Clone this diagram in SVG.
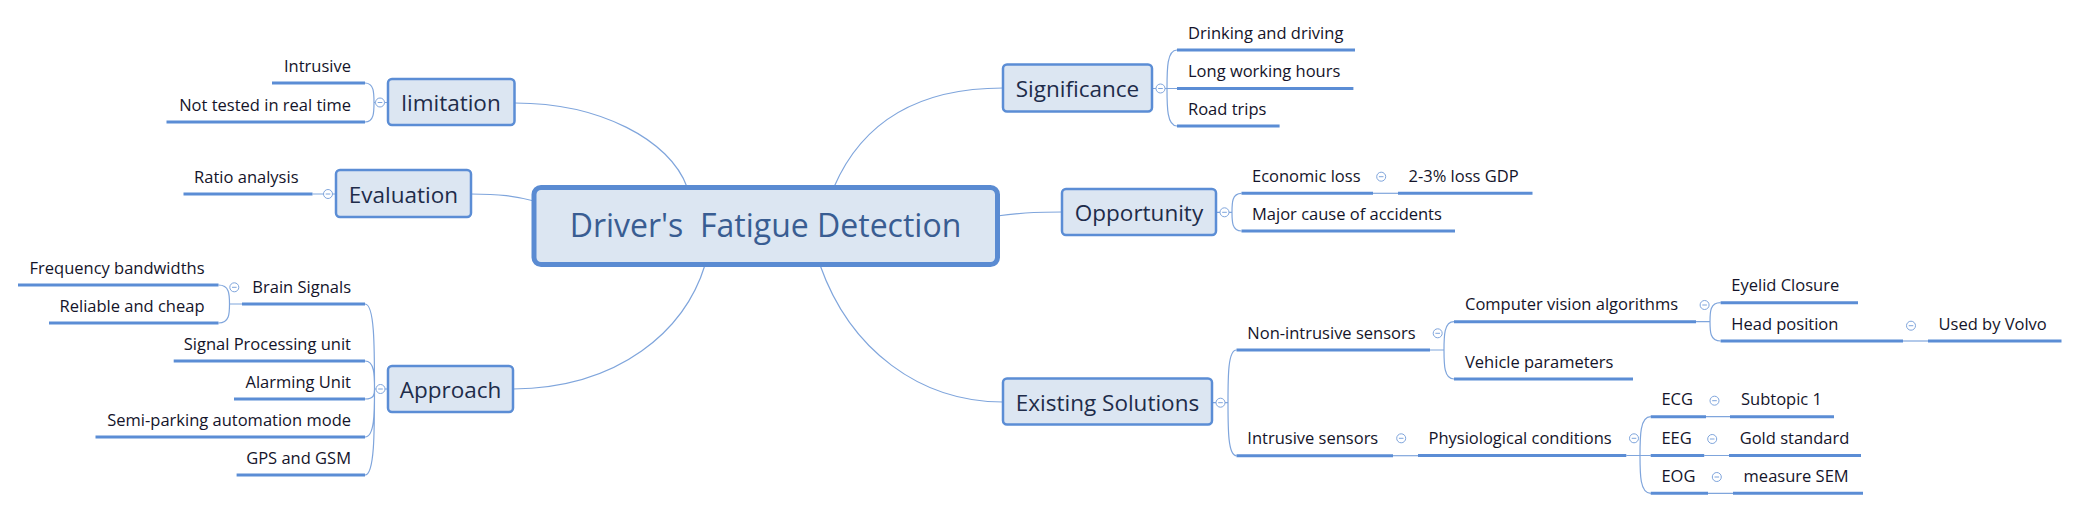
<svg xmlns="http://www.w3.org/2000/svg" width="2079" height="510" viewBox="0 0 2079 510">
<style>
.ln{fill:none;stroke:#7fa5dc;stroke-width:1.2}
.ul{fill:none;stroke:#5b8dd5;stroke-width:3}
.box{fill:#dce6f2;stroke:#5b8dd5;stroke-width:2.5}
.cbox{fill:#dce6f2;stroke:#5a8bd2;stroke-width:5}
text{font-family:"Open Sans","Noto Sans","DejaVu Sans",sans-serif}
.t{font-size:16.5px;fill:#14142a}
.e{text-anchor:end}
.tt{font-size:22.5px;fill:#1e2c4a;text-anchor:middle}
.ct{font-size:32px;fill:#395d92;text-anchor:middle}
</style>
<defs>
<g id="cb"><circle r="4.5" fill="#fff" stroke="#7fa5dc" stroke-width="1"/><line x1="-2.3" y1="0" x2="2.3" y2="0" stroke="#7fa5dc" stroke-width="1"/></g>
</defs>
<rect width="2079" height="510" fill="#fff"/>

<g id="connectors">
<path class="ln" d="M515,103 C600,103 670,140 687,187"/>
<path class="ln" d="M471,194 C500,194 515,196 534,201"/>
<path class="ln" d="M513,389 C620,388 685,330 705,265"/>
<path class="ln" d="M834,187 C863,120 920,88 1003,88"/>
<path class="ln" d="M997,216 C1030,212 1040,212 1062,212"/>
<path class="ln" d="M820,265 C850,350 920,402 1003,402"/>
<path class="ln" d="M388,102.5 L384.5,102.5 M375.5,102.5 L374,102.5"/>
<path class="ln" d="M374,102.5 C374,92.8 374,83 365,83 M374,102.5 C374,112.2 374,122 365,122"/>
<path class="ln" d="M336,194 L332.5,194 M323.5,194 L312.5,194"/>
<path class="ln" d="M388,389 L385,389 M376,389 L374.5,389"/>
<path class="ln" d="M374.5,389 C374.5,346 374.5,304 365,304 M374.5,389 C374.5,375 374.5,361 365,361 M374.5,389 C374.5,394 374.5,399 365,399 M374.5,389 C374.5,413 374.5,437 365,437 M374.5,389 C374.5,432 374.5,475 365,475"/>
<path class="ln" d="M242,304 L229.5,304 C229.5,294.5 229.5,285 218.5,285 M229.5,304 C229.5,313.5 229.5,323 218.5,323"/>
<path class="ln" d="M1152,88.5 L1156,88.5 M1165,88.5 L1177,88.5"/>
<path class="ln" d="M1167,88.5 C1167,69 1167,50 1177,50 M1167,88.5 C1167,107 1167,126 1177,126"/>
<path class="ln" d="M1216,212.3 L1220,212.3 M1229,212.3 L1232,212.3"/>
<path class="ln" d="M1232,212.3 C1232,202.8 1232,193.3 1241.5,193.3 M1232,212.3 C1232,221.6 1232,231 1241.5,231"/>
<path class="ln" d="M1373,193.3 L1398,193.3"/>
<path class="ln" d="M1212,402.7 L1216,402.7 M1225,402.7 L1228,402.7"/>
<path class="ln" d="M1228,402.7 C1228,376 1228,350 1236.5,350 M1228,402.7 C1228,429 1228,455.7 1236.5,455.7"/>
<path class="ln" d="M1430,350 L1444,350 C1444,336 1444,321.7 1454,321.7 M1444,350 C1444,364.5 1444,379 1454,379"/>
<path class="ln" d="M1696,321.7 L1710,321.7 C1710,312 1710,302.7 1720.6,302.7 M1710,321.7 C1710,331.3 1710,341 1720.6,341"/>
<path class="ln" d="M1903,341 L1928,341"/>
<path class="ln" d="M1393,455.7 L1418,455.7"/>
<path class="ln" d="M1626.3,455.5 L1650.7,455.5 M1640,455.5 C1640,436 1640,416.7 1650.7,416.7 M1640,455.5 C1640,474.4 1640,493.3 1650.7,493.3"/>
<path class="ln" d="M1706,416.7 L1730,416.7 M1704.2,455.5 L1729,455.5 M1708,493.3 L1733,493.3"/>
</g>

<g id="central">
<rect class="cbox" x="534" y="187.5" width="463.5" height="77" rx="7"/>
<text class="ct" x="765.5" y="237" xml:space="preserve">Driver's  Fatigue Detection</text>
</g>

<g id="limitation">
<rect class="box" x="388" y="79" width="126.5" height="46" rx="4"/>
<text class="tt" x="451" y="111">limitation</text>
<use href="#cb" x="380" y="102.5"/>
</g>
<g id="intrusive-l"><path class="ul" d="M272,83 H365"/><text class="t e" x="351" y="71.5">Intrusive</text></g>
<g id="not-tested"><path class="ul" d="M166.5,122 H365"/><text class="t e" x="351" y="110.5">Not tested in real time</text></g>

<g id="evaluation">
<rect class="box" x="336" y="170" width="135" height="47" rx="4"/>
<text class="tt" x="403.5" y="202.5">Evaluation</text>
<use href="#cb" x="328" y="194"/>
</g>
<g id="ratio"><path class="ul" d="M183.5,194 H312.5"/><text class="t e" x="298.5" y="182.5">Ratio analysis</text></g>

<g id="approach">
<rect class="box" x="388" y="366" width="125" height="46" rx="4"/>
<text class="tt" x="450.5" y="397.5">Approach</text>
<use href="#cb" x="380.5" y="389"/>
</g>
<g id="brain"><path class="ul" d="M242,304 H365"/><text class="t e" x="351" y="292.5">Brain Signals</text><use href="#cb" x="234.3" y="287.3"/></g>
<g id="freq"><path class="ul" d="M18,285 H218.5"/><text class="t e" x="204.5" y="273.5">Frequency bandwidths</text></g>
<g id="reliable"><path class="ul" d="M49,323 H218.5"/><text class="t e" x="204.5" y="311.5">Reliable and cheap</text></g>
<g id="spu"><path class="ul" d="M173.7,361 H365"/><text class="t e" x="351" y="349.5">Signal Processing unit</text></g>
<g id="alarm"><path class="ul" d="M234,399 H365"/><text class="t e" x="351" y="387.5">Alarming Unit</text></g>
<g id="semi"><path class="ul" d="M95.5,437 H365"/><text class="t e" x="351" y="425.5">Semi-parking automation mode</text></g>
<g id="gps"><path class="ul" d="M236.6,475 H365"/><text class="t e" x="351" y="463.5">GPS and GSM</text></g>

<g id="significance">
<rect class="box" x="1003" y="64.5" width="149" height="47" rx="4"/>
<text class="tt" x="1077.5" y="96.5">Significance</text>
<use href="#cb" x="1160.5" y="88.5"/>
</g>
<g id="drinking"><path class="ul" d="M1177,50 H1355"/><text class="t" x="1188" y="38.5">Drinking and driving</text></g>
<g id="long"><path class="ul" d="M1177,88.5 H1353.4"/><text class="t" x="1188" y="77">Long working hours</text></g>
<g id="road"><path class="ul" d="M1177,126 H1279.6"/><text class="t" x="1188" y="114.5">Road trips</text></g>

<g id="opportunity">
<rect class="box" x="1062" y="189" width="154" height="46" rx="4"/>
<text class="tt" x="1139" y="220.5">Opportunity</text>
<use href="#cb" x="1224.5" y="212.3"/>
</g>
<g id="economic"><path class="ul" d="M1241.5,193.3 H1373"/><text class="t" x="1252" y="181.8">Economic loss</text><use href="#cb" x="1381.2" y="176.7"/></g>
<g id="gdp"><path class="ul" d="M1398,193.3 H1532.5"/><text class="t" x="1408.5" y="181.8">2-3% loss GDP</text></g>
<g id="major"><path class="ul" d="M1241.5,231 H1455"/><text class="t" x="1252" y="219.5">Major cause of accidents</text></g>

<g id="existing">
<rect class="box" x="1003" y="378.5" width="209" height="46" rx="4"/>
<text class="tt" x="1107.5" y="410.5">Existing Solutions</text>
<use href="#cb" x="1220.5" y="402.7"/>
</g>
<g id="nonintrusive"><path class="ul" d="M1236.5,350 H1430"/><text class="t" x="1247.3" y="338.5">Non-intrusive sensors</text><use href="#cb" x="1437.7" y="333.3"/></g>
<g id="cva"><path class="ul" d="M1454,321.7 H1696"/><text class="t" x="1465" y="310.2">Computer vision algorithms</text><use href="#cb" x="1704.6" y="305"/></g>
<g id="eyelid"><path class="ul" d="M1720.6,302.7 H1858"/><text class="t" x="1731.3" y="291.2">Eyelid Closure</text></g>
<g id="head"><path class="ul" d="M1720.6,341 H1903"/><text class="t" x="1731.3" y="329.5">Head position</text><use href="#cb" x="1911" y="325.7"/></g>
<g id="volvo"><path class="ul" d="M1928,341 H2061.5"/><text class="t" x="1938.5" y="329.5">Used by Volvo</text></g>
<g id="vehicle"><path class="ul" d="M1454,379 H1633"/><text class="t" x="1465" y="367.5">Vehicle parameters</text></g>
<g id="intrusive-s"><path class="ul" d="M1236.5,455.7 H1393"/><text class="t" x="1247.3" y="444.2">Intrusive sensors</text><use href="#cb" x="1401.2" y="438.3"/></g>
<g id="physio"><path class="ul" d="M1418,455.5 H1626.3"/><text class="t" x="1428.5" y="444">Physiological conditions</text><use href="#cb" x="1634" y="438.3"/></g>
<g id="ecg"><path class="ul" d="M1650.7,416.7 H1706"/><text class="t" x="1661.4" y="405.2">ECG</text><use href="#cb" x="1714.5" y="400.7"/></g>
<g id="subtopic"><path class="ul" d="M1730,416.7 H1834"/><text class="t" x="1741" y="405.2">Subtopic 1</text></g>
<g id="eeg"><path class="ul" d="M1650.7,455.5 H1704.2"/><text class="t" x="1661.4" y="444">EEG</text><use href="#cb" x="1712.2" y="439"/></g>
<g id="gold"><path class="ul" d="M1729,455.5 H1861"/><text class="t" x="1739.7" y="444">Gold standard</text></g>
<g id="eog"><path class="ul" d="M1650.7,493.3 H1708"/><text class="t" x="1661.4" y="481.8">EOG</text><use href="#cb" x="1716.8" y="477"/></g>
<g id="sem"><path class="ul" d="M1733,493.3 H1863"/><text class="t" x="1743.6" y="481.8">measure SEM</text></g>
</svg>
